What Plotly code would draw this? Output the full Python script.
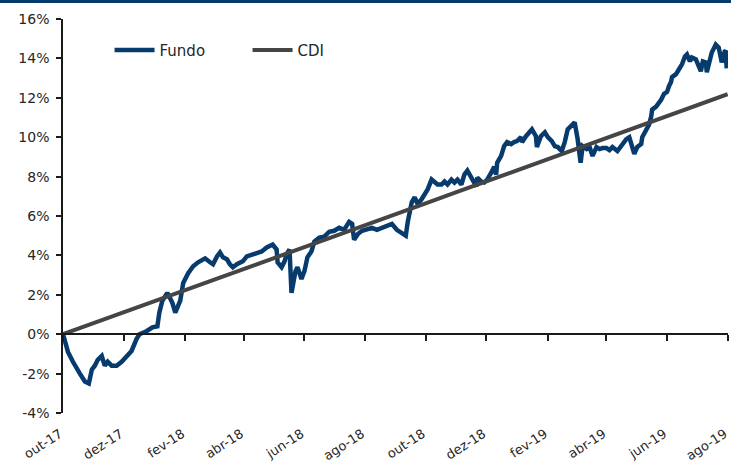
import plotly.graph_objects as go

# ---------------- data ----------------
fundo_dates = [
    "2017-10-01", "2017-10-06", "2017-10-11", "2017-10-15", "2017-10-18", "2017-10-23", "2017-10-27", "2017-10-30",
    "2017-11-02", "2017-11-05", "2017-11-09", "2017-11-12", "2017-11-15", "2017-11-19", "2017-11-24", "2017-11-29",
    "2017-12-04", "2017-12-09", "2017-12-14", "2017-12-17", "2017-12-24", "2017-12-30",
    "2018-01-04", "2018-01-06", "2018-01-09", "2018-01-14", "2018-01-19", "2018-01-22", "2018-01-27", "2018-01-30",
    "2018-02-04", "2018-02-09", "2018-02-14", "2018-02-18", "2018-02-21", "2018-02-26",
    "2018-03-01", "2018-03-05", "2018-03-08", "2018-03-11", "2018-03-15", "2018-03-18", "2018-03-21", "2018-03-25", "2018-03-28", "2018-03-31",
    "2018-04-04", "2018-04-09", "2018-04-14", "2018-04-19", "2018-04-24", "2018-04-27", "2018-04-30",
    "2018-05-04", "2018-05-05", "2018-05-09", "2018-05-12", "2018-05-14", "2018-05-17", "2018-05-19", "2018-05-20", "2018-05-23", "2018-05-25", "2018-05-29",
    "2018-06-01", "2018-06-04", "2018-06-08", "2018-06-11", "2018-06-16", "2018-06-21", "2018-06-26",
    "2018-07-01", "2018-07-06", "2018-07-11", "2018-07-16", "2018-07-19", "2018-07-21", "2018-07-25", "2018-07-29",
    "2018-08-03", "2018-08-08", "2018-08-13", "2018-08-18", "2018-08-23", "2018-08-28",
    "2018-09-02", "2018-09-07", "2018-09-11", "2018-09-13", "2018-09-17", "2018-09-20", "2018-09-23", "2018-09-27", "2018-09-30",
    "2018-10-03", "2018-10-07", "2018-10-10", "2018-10-13", "2018-10-17", "2018-10-20", "2018-10-23", "2018-10-27", "2018-10-30",
    "2018-11-02", "2018-11-06", "2018-11-09", "2018-11-12", "2018-11-16", "2018-11-19", "2018-11-21", "2018-11-22", "2018-11-26", "2018-11-29",
    "2018-12-02", "2018-12-06", "2018-12-09", "2018-12-11", "2018-12-12", "2018-12-16", "2018-12-19", "2018-12-22", "2018-12-26", "2018-12-29",
    "2019-01-01", "2019-01-05", "2019-01-06", "2019-01-10", "2019-01-13", "2019-01-16", "2019-01-20", "2019-01-21", "2019-01-25", "2019-01-29",
    "2019-02-01", "2019-02-05", "2019-02-08", "2019-02-11", "2019-02-15", "2019-02-18", "2019-02-21", "2019-02-25", "2019-02-28",
    "2019-03-03", "2019-03-06", "2019-03-08", "2019-03-12", "2019-03-15", "2019-03-18", "2019-03-22", "2019-03-25", "2019-03-28",
    "2019-04-01", "2019-04-04", "2019-04-07", "2019-04-12", "2019-04-17", "2019-04-21", "2019-04-24", "2019-04-27", "2019-04-29",
    "2019-05-02", "2019-05-06", "2019-05-07", "2019-05-11", "2019-05-14", "2019-05-16", "2019-05-17", "2019-05-21", "2019-05-24", "2019-05-26", "2019-05-29",
    "2019-06-01", "2019-06-03", "2019-06-05", "2019-06-06", "2019-06-10", "2019-06-13", "2019-06-16", "2019-06-19", "2019-06-21", "2019-06-24", "2019-06-26", "2019-06-30",
    "2019-07-03", "2019-07-05", "2019-07-07", "2019-07-10", "2019-07-11", "2019-07-15", "2019-07-16", "2019-07-20", "2019-07-23", "2019-07-25", "2019-07-26", "2019-07-29", "2019-07-30", "2019-07-31",
]
fundo_values = [
    0.0, -0.9, -1.4, -1.8, -2.0, -2.4, -2.5, -1.8,
    -1.6, -1.3, -1.1, -1.6, -1.4, -1.6, -1.6, -1.4,
    -1.1, -0.85, -0.25, 0.0, 0.15, 0.35,
    0.4, 1.1, 1.7, 2.1, 1.6, 1.1, 1.7, 2.6,
    3.1, 3.45, 3.65, 3.75, 3.85, 3.65,
    3.55, 3.95, 4.15, 3.9, 3.8, 3.55, 3.4, 3.55, 3.65, 3.7,
    3.95, 4.05, 4.15, 4.2, 4.4, 4.45, 4.55,
    4.3, 3.65, 3.4, 3.7, 4.05, 4.3, 2.1, 2.45, 3.2, 3.4, 2.8,
    3.2, 3.9, 4.2, 4.7, 4.9, 4.95, 5.2,
    5.25, 5.4, 5.3, 5.7, 5.6, 4.8, 5.1, 5.25,
    5.3, 5.4, 5.3, 5.4, 5.5, 5.6,
    5.3, 5.1, 5.0, 5.7, 6.7, 6.95, 6.6, 6.85, 7.1,
    7.35, 7.85, 7.7, 7.6, 7.6, 7.75, 7.6, 7.85, 7.7,
    7.85, 7.6, 8.1, 8.3, 7.9, 7.6, 7.5, 7.95, 7.75, 7.7,
    7.85, 8.2, 8.5, 8.1, 8.7, 9.05, 9.55, 9.75, 9.65, 9.75,
    9.8, 10.0, 9.75, 10.05, 10.25, 10.4, 10.05, 9.5, 10.05, 10.25,
    10.0, 9.8, 9.55, 9.5, 9.3, 9.75, 10.4, 10.65, 10.75,
    9.9, 8.7, 9.55, 9.4, 9.5, 9.05, 9.5, 9.4, 9.45,
    9.45, 9.35, 9.5, 9.3, 9.65, 9.9, 10.0, 9.4, 9.15,
    9.5, 9.65, 10.0, 10.4, 10.65, 11.05, 11.4, 11.55, 11.75, 11.9, 12.2,
    12.3, 12.6, 12.8, 13.05, 13.2, 13.45, 13.7, 14.1, 14.2, 13.85, 14.05, 13.95,
    13.6, 13.35, 13.85, 13.8, 13.3, 13.95, 14.3, 14.7, 14.55, 14.05, 13.8, 14.35, 14.4, 13.5,
]

cdi_dates = [
    "2017-10-01", "2017-11-01", "2017-12-01", "2018-01-01", "2018-02-01", "2018-03-01", "2018-04-01",
    "2018-05-01", "2018-06-01", "2018-07-01", "2018-08-01", "2018-09-01", "2018-10-01", "2018-11-01",
    "2018-12-01", "2019-01-01", "2019-02-01", "2019-03-01", "2019-04-01", "2019-05-01", "2019-06-01",
    "2019-07-01", "2019-08-01",
]
cdi_values = [
    0.0, 0.56, 1.11, 1.67, 2.24, 2.75, 3.31,
    3.86, 4.42, 4.97, 5.53, 6.10, 6.64, 7.21,
    7.76, 8.32, 8.88, 9.39, 9.96, 10.50, 11.07,
    11.61, 12.18,
]

x_tick_dates = ["2017-10-01", "2017-12-01", "2018-02-01", "2018-04-01", "2018-06-01", "2018-08-01",
                "2018-10-01", "2018-12-01", "2019-02-01", "2019-04-01", "2019-06-01", "2019-08-01"]
x_tick_labels = ["out-17", "dez-17", "fev-18", "abr-18", "jun-18", "ago-18",
                 "out-18", "dez-18", "fev-19", "abr-19", "jun-19", "ago-19"]
y_tick_values = [-4, -2, 0, 2, 4, 6, 8, 10, 12, 14, 16]
y_tick_labels = ["-4%", "-2%", "0%", "2%", "4%", "6%", "8%", "10%", "12%", "14%", "16%"]

# ---------------- figure ----------------
FONT = "DejaVu Sans"
NAVY = "#073B6E"
GREY = "#454545"
AXIS = "#1a1a1a"
TXT = "#262626"

fig = go.Figure()
fig.add_trace(go.Scatter(x=fundo_dates, y=fundo_values, mode="lines", name="Fundo",
                         line=dict(color=NAVY, width=4.5), xaxis="x", yaxis="y"))
fig.add_trace(go.Scatter(x=cdi_dates, y=cdi_values, mode="lines", name="CDI",
                         line=dict(color=GREY, width=4), xaxis="x2", yaxis="y"))

x_range = ["2017-10-01", "2019-08-01 08:00"]

fig.update_layout(
    width=731, height=473,
    margin=dict(l=63, r=3, t=19, b=60, autoexpand=False),
    paper_bgcolor="white", plot_bgcolor="white",
    font=dict(family=FONT, size=14, color=TXT),
    showlegend=True,
    legend=dict(orientation="h", x=0.07, y=0.921, xanchor="left", yanchor="middle",
                font=dict(family=FONT, size=15, color=TXT),
                bgcolor="rgba(0,0,0,0)", itemwidth=40, entrywidth=83),
    xaxis=dict(type="date", range=x_range, automargin=False, ticklabeloverflow="allow",
               tickvals=x_tick_dates, ticktext=x_tick_labels, tickangle=-33,
               ticklabelstandoff=10, ticklabelshift=-3,
               showgrid=False, zeroline=False, showline=False, ticks="",
               tickfont=dict(family=FONT, size=13, color=TXT)),
    xaxis2=dict(type="date", matches="x", overlaying="x", anchor="free", position=0.2,
                automargin=False, tickvals=x_tick_dates, showticklabels=False,
                showgrid=False, zeroline=False, showline=True, linecolor=AXIS, linewidth=1.5,
                ticks="outside", ticklen=6, tickwidth=1.5, tickcolor=AXIS),
    yaxis=dict(range=[-4, 16], tickvals=y_tick_values, ticktext=y_tick_labels, automargin=False,
               showgrid=False, zeroline=False, showline=True, linecolor=AXIS, linewidth=1.5,
               ticks="outside", ticklen=5, tickwidth=1.5, tickcolor=AXIS, ticklabelstandoff=4,
               tickfont=dict(family=FONT, size=14, color=TXT)),
)

# top border line of the page
fig.add_shape(type="line", xref="paper", yref="paper",
              x0=-63 / 665, x1=668 / 665, y0=1 + 17.5 / 394, y1=1 + 17.5 / 394,
              line=dict(color=NAVY, width=3))

fig.write_html("out.html", config={"displayModeBar": False},
               post_script="document.body.style.margin='0px';")
